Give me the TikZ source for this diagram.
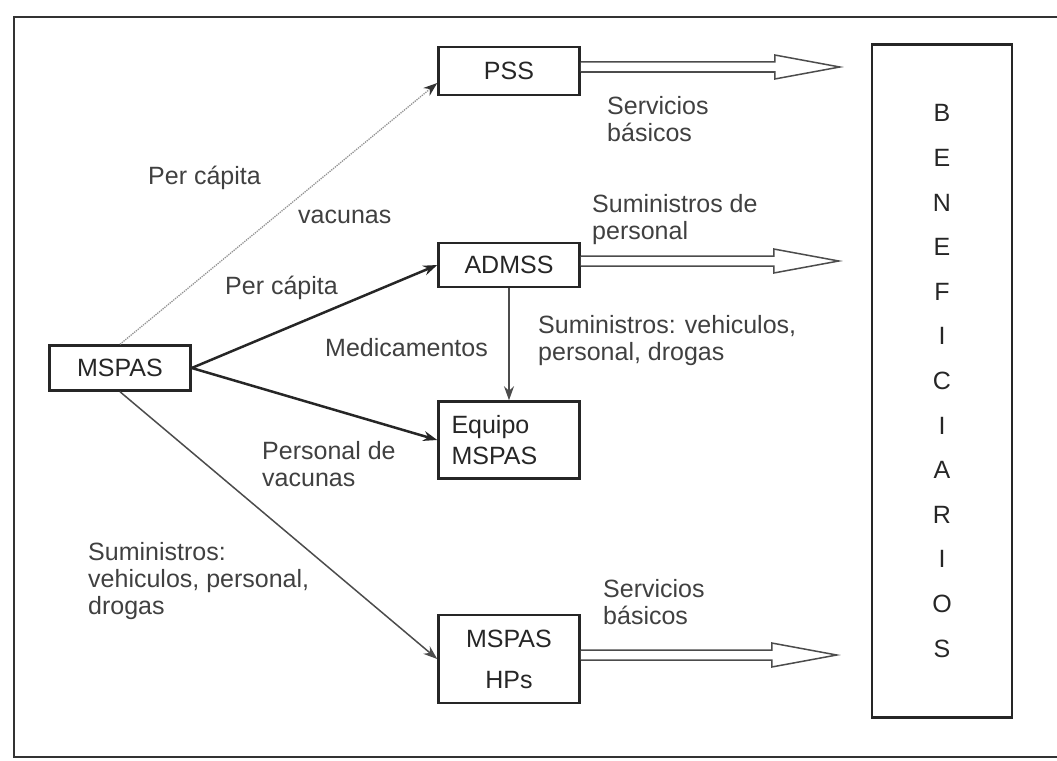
\documentclass[tikz,border=0pt]{standalone}
\usepackage{fontspec}
\setmainfont{Liberation Sans}
\usetikzlibrary{arrows.meta, positioning}

% hollow block arrow leaving a box: start anchor, length
\newcommand{\hollowarrow}[2]{%
  \draw[flow] ([yshift=4pt]#1) ++(0,-5) -- ++({#2-65},0) -- ++(0,-7)
    -- ++(65,12) -- ++(-65,12) -- ++(0,-7) -- ++({65-#2},0);}

\begin{document}
\begin{tikzpicture}[x=1pt, y=-1pt, ->, >={Stealth[length=14pt,width=10pt]},
                    node distance=175pt, font=\fontsize{25}{27}\selectfont,
                    text=black!85]

  \useasboundingbox (0,0) rectangle (1057,760);
  \tikzstyle{box}     = [-, draw=black!85, line width=2.5pt, minimum width=141pt, inner sep=6pt]
  \tikzstyle{lbl}     = [anchor=west, align=left, inner sep=0pt, text=black!75]
  \tikzstyle{dotline} = [gray!85, line width=1.3pt, densely dotted, -{Stealth[length=14pt,width=10pt,black!80]}]
  \tikzstyle{strong}  = [black!85, line width=2.5pt]
  \tikzstyle{plain}   = [gray!60!black, line width=1.5pt]
  \tikzstyle{flow}    = [-, draw=gray!60!black, line width=1.5pt, fill=white, line join=miter]

  \draw[-, line width=1.5pt, black!80] (1065,17) -- (14,17) -- (14,757) -- (1065,757);

  \node[box, minimum height=45pt] (MSPAS) at (120,368)  {MSPAS};
  \node[box, minimum height=44pt] (ADMSS) at (509,265)  {ADMSS};
  \node[box, minimum height=48pt] (PSS)   [above of=ADMSS, node distance=194pt] {PSS};
  \node[box, minimum height=77pt, text width=115pt, align=left]
                                  (EQ)    [below of=ADMSS] {Equipo\\[4pt]MSPAS};
  \node[box, minimum height=88pt, align=center]
                                  (HP)    [below of=EQ, node distance=219pt] {MSPAS\\[14pt]HPs};
  \node[box, minimum width=140pt, minimum height=673pt, align=center,
        font=\fontsize{25}{44.6}\selectfont]
                                  (BEN)   at (942,381)  {B\\E\\N\\E\\F\\I\\C\\I\\A\\R\\I\\O\\S};

  \node[lbl] (pc1)   at (148,178) {Per cápita};
  \node[lbl] (vac)   at (298,217) {vacunas};
  \node[lbl] (pc2)   at (225,288) {Per cápita};
  \node[lbl] (med)   at (325,348) {Medicamentos};
  \node[lbl] (pvac)  at (262,464) {Personal de\\vacunas};
  \node[lbl] (sum1)  at (88,581)  {Suministros:\\vehiculos, personal,\\drogas};
  \node[lbl] (sum2)  at (592,220) {Suministros de\\personal};
  \node[lbl] (sum3)  at (538,341) {Suministros: vehiculos,\\personal, drogas};
  \node[lbl] (serv1) at (607,119) {Servicios\\básicos};
  \node[lbl] (serv2) at (603,602) {Servicios\\básicos};

  \path (MSPAS.north) edge[dotline] ([yshift=-12pt]PSS.west)
        (MSPAS.east)  edge[strong]  (ADMSS.west)
        (MSPAS.east)  edge[strong]  (EQ.west)
        (MSPAS.south) edge[plain]   (HP.west)
        (ADMSS.south) edge[plain]   (EQ.north);

  \hollowarrow{PSS.east}{259}
  \hollowarrow{ADMSS.east}{258}
  \hollowarrow{HP.east}{256}
\end{tikzpicture}
\end{document}
